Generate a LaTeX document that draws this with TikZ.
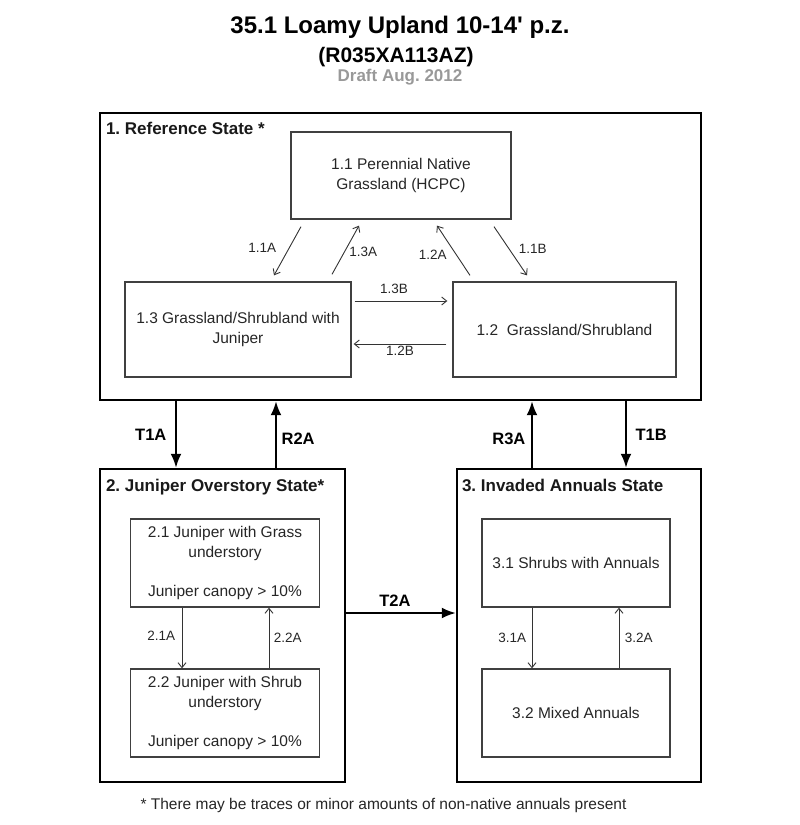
\documentclass[tikz,border=0pt]{standalone}
\usepackage{fontspec}
\setmainfont{Liberation Sans}
\frenchspacing
\usetikzlibrary{arrows.meta,positioning}
\tikzstyle{heading} = [inner sep=0pt, font=\fontsize{24}{28}\selectfont\bfseries]
\tikzstyle{statebox} = [rectangle, draw=black, line width=2.4pt, inner sep=0pt]
\tikzstyle{statelabel} = [anchor=north west, inner sep=0pt, font=\fontsize{17}{20}\selectfont\bfseries, text=black!90]
\tikzstyle{phase} = [rectangle, draw=black!75, line width=1.3pt, inner sep=0pt, align=center, text=black!85, font=\fontsize{15.5}{19.5}\selectfont]
\tikzstyle{pathway} = [line width=0.9pt, draw=black!80, -{Straight Barb[length=5pt,width=8pt]}]
\tikzstyle{pathlabel} = [inner sep=0pt, text=black!85, font=\fontsize{13.5}{16}\selectfont]
\tikzstyle{transition} = [line width=2.2pt, -{Latex[length=14pt,width=11pt]}]
\tikzstyle{translabel} = [inner sep=0pt, font=\fontsize{16.5}{19}\selectfont\bfseries]
\begin{document}
\begin{tikzpicture}[x=1pt, y=-1pt, node distance=150pt]
\useasboundingbox (0,0) rectangle (800,825);

\node (title) [heading] at (400,27) {35.1 Loamy Upland 10-14\textquotesingle\ p.z.};
\node (code) [heading, font=\fontsize{21}{24}\selectfont\bfseries] at (396,57) {(R035XA113AZ)};
\node (draft) [heading, font=\fontsize{17}{20}\selectfont\bfseries, text=black!40] at (400,77) {Draft Aug. 2012};

% states
\node (ref) [statebox, minimum width=601pt, minimum height=287pt] at (400.5,256.5) {};
\node (reflabel) [statelabel, at={(ref.north west)}, xshift=7pt, yshift=-10pt] {1. Reference State *};
\node (st2) [statebox, minimum width=245pt, minimum height=313pt] at (222.5,625.5) {};
\node (st2label) [statelabel, at={(st2.north west)}, xshift=7pt, yshift=-11pt] {2. Juniper Overstory State*};
\node (st3) [statebox, minimum width=244pt, minimum height=313pt] at (579,625.5) {};
\node (st3label) [statelabel, at={(st3.north west)}, xshift=6pt, yshift=-11pt] {3. Invaded Annuals State};

% phases
\node (n11) [phase, minimum width=220pt, minimum height=87pt] at (401,175.5) {1.1 Perennial Native\\Grassland (HCPC)};
\node (n13) [phase, minimum width=226pt, minimum height=95pt] at (238,329.5) {1.3 Grassland/Shrubland with\\Juniper};
\node (n12) [phase, minimum width=223pt, minimum height=95pt] at (564.5,329.5) {1.2\ \ Grassland/Shrubland};
\node (n21) [phase, minimum width=189pt, minimum height=88pt] at (225,563) {2.1 Juniper with Grass\\understory\\[19.5pt]Juniper canopy > 10\%};
\node (n22) [phase, minimum width=189pt, minimum height=88pt, below of=n21] {2.2 Juniper with Shrub\\understory\\[19.5pt]Juniper canopy > 10\%};
\node (n31) [phase, minimum width=188pt, minimum height=88pt] at (576,563) {3.1 Shrubs with Annuals};
\node (n32) [phase, minimum width=188pt, minimum height=88pt, below of=n31] {3.2 Mixed Annuals};

\node (note) [pathlabel, font=\fontsize{15.5}{19}\selectfont] at (383.5,805) {* There may be traces or minor amounts of non-native annuals present};

\draw [pathway] ([xshift=-100pt,yshift=-7pt]n11.south) -- node[pathlabel, left=11pt, yshift=3pt]{1.1A} ([xshift=36pt,yshift=6pt]n13.north);
\draw [pathway] ([xshift=94pt,yshift=7pt]n13.north) -- node[pathlabel, right=3.5pt, yshift=-2pt]{1.3A} ([xshift=-42pt,yshift=-6pt]n11.south);
\draw [pathway] ([xshift=-94.5pt,yshift=6pt]n12.north) -- node[pathlabel, left=6.5pt, yshift=-4.5pt]{1.2A} ([xshift=36pt,yshift=-6pt]n11.south);
\draw [pathway] ([xshift=93pt,yshift=-7pt]n11.south) -- node[pathlabel, right=8pt, yshift=2pt]{1.1B} ([xshift=-37.5pt,yshift=6pt]n12.north);
\draw [pathway] ([xshift=3pt,yshift=28.5pt]n13.east) -- node[pathlabel, above=7pt, xshift=-7pt]{1.3B} ([xshift=-5pt,yshift=28.5pt]n12.west);
\draw [pathway] ([xshift=-6pt,yshift=-14.5pt]n12.west) -- node[pathlabel, below=2pt]{1.2B} ([xshift=2pt,yshift=-14.5pt]n13.east);

\draw [pathway] ([xshift=-43pt]n21.south) -- node[pathlabel, left=6.5pt, yshift=2pt]{2.1A} ([xshift=-43pt]n22.north);
\draw [pathway] ([xshift=44pt]n22.north) -- node[pathlabel, right=4.5pt]{2.2A} ([xshift=44pt]n21.south);
\draw [pathway] ([xshift=-44pt]n31.south) -- node[pathlabel, left=5.5pt]{3.1A} ([xshift=-44pt]n32.north);
\draw [pathway] ([xshift=43pt]n32.north) -- node[pathlabel, right=5.5pt]{3.2A} ([xshift=43pt]n31.south);

\draw [transition] ([xshift=-46.5pt]st2.north |- ref.south) -- node[translabel, left=8.5pt]{T1A} ([xshift=-46.5pt]st2.north);
\draw [transition] ([xshift=53.5pt]st2.north) -- node[translabel, right=4.5pt, yshift=-4.5pt]{R2A} ([xshift=53.5pt]st2.north |- ref.south);
\draw [transition] ([xshift=-47pt]st3.north) -- node[translabel, left=5.5pt, yshift=-4.5pt]{R3A} ([xshift=-47pt]st3.north |- ref.south);
\draw [transition] ([xshift=47pt]st3.north |- ref.south) -- node[translabel, right=8.5pt]{T1B} ([xshift=47pt]st3.north);
\draw [transition] ([yshift=12.5pt]st2.east) -- node[translabel, above=5pt, xshift=-6pt]{T2A} ([yshift=12.5pt]st3.west);

\end{tikzpicture}
\end{document}
